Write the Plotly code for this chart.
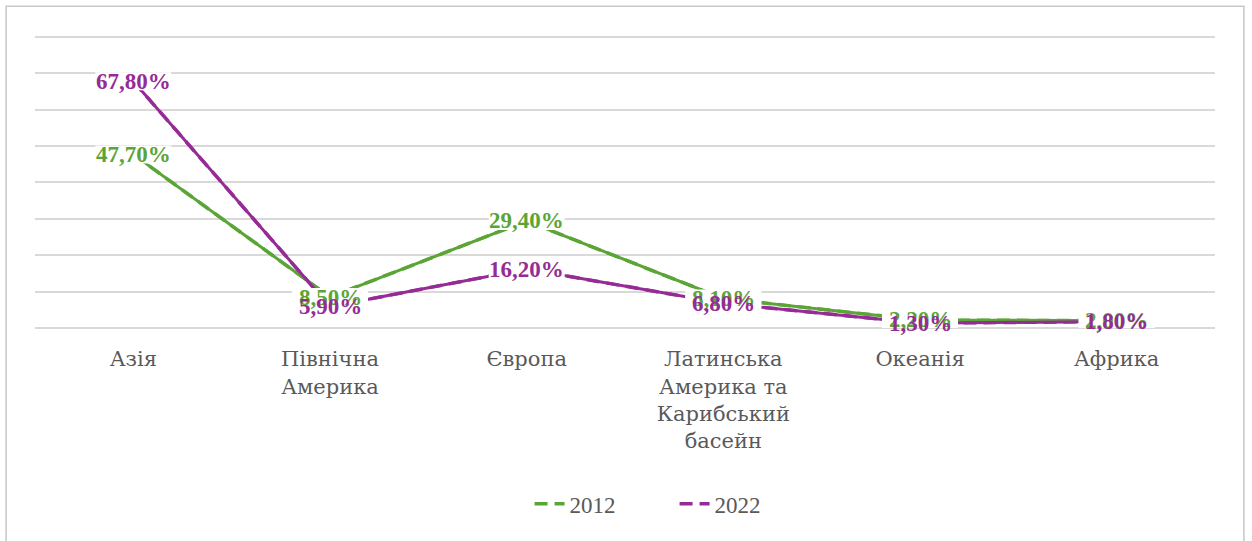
import plotly.graph_objects as go

categories = ["Азія", "Північна<br>Америка", "Європа", "Латинська<br>Америка та<br>Карибський<br>басейн", "Океанія", "Африка"]
values_2012 = [47.7, 8.5, 29.4, 8.1, 2.2, 2.0]
values_2022 = [67.8, 5.9, 16.2, 6.8, 1.3, 1.8]
series_names = ["2012", "2022"]
y_ticks = [0, 10, 20, 30, 40, 50, 60, 70, 80]

GREEN = "#5aa536"
PURPLE = "#952c95"
FONT = "Liberation Serif"
CYR_FONT = "DejaVu Serif"

fig = go.Figure()
for name, vals, col in [(series_names[0], values_2012, GREEN), (series_names[1], values_2022, PURPLE)]:
    fig.add_trace(go.Scatter(
        x=categories, y=vals, mode="lines", name=name,
        line=dict(color=col, width=3.5, dash="13px,7px"),
        hoverinfo="skip",
    ))
for vals, col in [(values_2012, GREEN), (values_2022, PURPLE)]:
    fig.add_trace(go.Scatter(
        x=categories, y=vals, mode="lines", showlegend=False,
        line=dict(color=col, width=3), hoverinfo="skip",
    ))

def fmt(v):
    return f"{v:.2f}".replace(".", ",") + "%"

# white label backgrounds (pixel-sized boxes anchored at the data points)
for vals in (values_2012, values_2022):
    for c, v in zip(categories, vals):
        fig.add_shape(type="rect", xref="x", yref="y",
                      xsizemode="pixel", ysizemode="pixel",
                      xanchor=c, yanchor=v, x0=-38, x1=38, y0=-9, y1=9,
                      fillcolor="white", line=dict(width=0), layer="above")
for vals, col in [(values_2012, GREEN), (values_2022, PURPLE)]:
    for c, v in zip(categories, vals):
        fig.add_annotation(
            x=c, y=v, text="<b>" + fmt(v) + "</b>", showarrow=False,
            xanchor="center", yanchor="middle",
            font=dict(family=FONT, size=23, color=col),
        )

fig.add_shape(type="rect", xref="paper", yref="paper",
              x0=-0.0245, x1=1.0245, y0=-0.73, y1=1.098,
              line=dict(color="#c8c8c8", width=1.5), fillcolor="rgba(0,0,0,0)", layer="below")

fig.update_layout(
    width=1252, height=541,
    margin=dict(l=35, r=37, t=35, b=213),
    paper_bgcolor="white", plot_bgcolor="white",
    showlegend=True,
    legend=dict(orientation="h", x=0.542, xanchor="center", y=-0.6, yanchor="middle",
                font=dict(family=FONT, size=23, color="#595959"),
                entrywidth=100, tracegroupgap=0),
    font=dict(family=FONT, size=20, color="#595959"),
)
fig.update_xaxes(
    type="category", range=[-0.5, 5.5], showgrid=False, showline=False,
    ticks="outside", ticklen=12, tickcolor="rgba(0,0,0,0)",
    tickfont=dict(family=CYR_FONT, size=21, color="#595959"),
)
fig.update_yaxes(
    range=[0, 80.5], tickvals=y_ticks, showticklabels=False,
    showgrid=True, gridcolor="#d9d9d9", gridwidth=1.5,
    zeroline=True, zerolinecolor="#d9d9d9", zerolinewidth=1.5,
)

fig.write_html("out.html")
